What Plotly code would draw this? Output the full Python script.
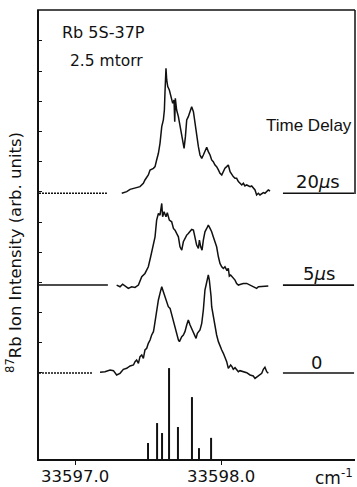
import plotly.graph_objects as go

# ---------------- data ----------------
NU0 = 33597.0  # cm^-1 reference; spectra below are given relative to it

# 20 us delay
nu_20us = [0.320, 0.354, 0.377, 0.411, 0.445, 0.468, 0.479, 0.502, 0.514, 0.537,
           0.548, 0.559, 0.571, 0.582, 0.594, 0.605, 0.612, 0.616, 0.623, 0.628,
           0.635, 0.646, 0.658, 0.669, 0.678, 0.683, 0.687, 0.696, 0.708, 0.719,
           0.731, 0.742, 0.747, 0.756, 0.765, 0.776, 0.788, 0.799, 0.811, 0.822,
           0.833, 0.845, 0.856, 0.868, 0.879, 0.890, 0.902, 0.913, 0.925, 0.936,
           0.947, 0.959, 0.970, 0.982, 0.993, 1.005, 1.016, 1.027, 1.039, 1.050,
           1.062, 1.073, 1.084, 1.096, 1.107, 1.119, 1.130, 1.142, 1.153, 1.164,
           1.176, 1.199, 1.210, 1.221, 1.233, 1.244, 1.256, 1.267, 1.279, 1.290,
           1.301, 1.313, 1.324, 1.336]
int_20us = [0.000, 0.055, 0.132, 0.166, 0.221, 0.331, 0.442, 0.607, 0.773, 0.828,
            0.883, 1.104, 1.325, 1.656, 2.208, 2.428, 2.759, 3.311, 4.139, 3.753,
            3.532, 3.422, 3.201, 2.980, 3.091, 2.373, 3.146, 2.759, 2.539, 2.263,
            1.987, 1.656, 1.490, 1.876, 2.428, 2.539, 2.704, 2.870, 2.704, 2.318,
            1.876, 1.545, 1.269, 1.159, 1.269, 1.380, 1.523, 1.380, 1.269, 1.104,
            1.049, 0.938, 0.883, 0.773, 0.662, 0.607, 0.717, 0.828, 0.883, 0.938,
            0.717, 0.607, 0.552, 0.497, 0.497, 0.386, 0.331, 0.276, 0.331, 0.243,
            0.276, 0.221, 0.243, 0.166, 0.110, -0.055, 0.000, -0.055, 0.000, 0.022,
            0.000, 0.055, 0.110, 0.077]

# 5 us delay
nu_5us = [0.285, 0.308, 0.326, 0.342, 0.365, 0.388, 0.411, 0.434, 0.457, 0.479,
          0.502, 0.518, 0.532, 0.548, 0.559, 0.571, 0.582, 0.594, 0.600, 0.610,
          0.623, 0.632, 0.646, 0.662, 0.674, 0.685, 0.696, 0.708, 0.719, 0.731,
          0.742, 0.753, 0.765, 0.776, 0.788, 0.799, 0.811, 0.822, 0.833, 0.845,
          0.852, 0.861, 0.870, 0.879, 0.890, 0.902, 0.913, 0.925, 0.936, 0.947,
          0.959, 0.970, 0.982, 0.993, 1.005, 1.016, 1.027, 1.039, 1.050, 1.057,
          1.066, 1.075, 1.084, 1.096, 1.107, 1.119, 1.130, 1.153, 1.176, 1.199,
          1.221, 1.244, 1.256, 1.267, 1.290, 1.313, 1.324]
int_5us = [0.000, -0.055, 0.033, -0.033, -0.110, -0.055, -0.077, 0.000, 0.276, 0.386,
           0.607, 0.938, 1.269, 1.600, 2.152, 2.373, 2.318, 2.704, 2.263, 2.428,
           2.263, 2.395, 2.152, 2.097, 1.876, 1.821, 1.711, 1.600, 1.269, 1.159,
           1.435, 1.545, 1.656, 1.711, 1.766, 1.843, 1.821, 1.600, 1.325, 1.214,
           1.490, 1.269, 1.159, 1.490, 1.766, 1.876, 1.987, 1.876, 1.766, 1.600,
           1.435, 1.269, 0.938, 0.717, 0.607, 0.552, 0.607, 0.497, 0.552, 0.298,
           0.331, 0.276, 0.221, 0.166, 0.055, 0.000, 0.022, 0.055, 0.055, 0.000,
           -0.033, -0.110, -0.055, -0.055, -0.055, -0.055, -0.033]

# 0 delay
nu_0 = [0.171, 0.205, 0.240, 0.263, 0.285, 0.308, 0.331, 0.354, 0.377, 0.400,
        0.411, 0.422, 0.434, 0.445, 0.457, 0.468, 0.479, 0.491, 0.502, 0.514,
        0.525, 0.537, 0.541, 0.548, 0.559, 0.571, 0.582, 0.594, 0.605, 0.616,
        0.628, 0.639, 0.651, 0.662, 0.674, 0.685, 0.696, 0.708, 0.715, 0.724,
        0.731, 0.742, 0.753, 0.765, 0.776, 0.788, 0.799, 0.811, 0.822, 0.829,
        0.838, 0.845, 0.856, 0.868, 0.879, 0.890, 0.902, 0.913, 0.920, 0.925,
        0.932, 0.936, 0.947, 0.959, 0.970, 0.982, 0.993, 1.005, 1.016, 1.027,
        1.039, 1.050, 1.057, 1.066, 1.075, 1.084, 1.096, 1.107, 1.119, 1.130,
        1.153, 1.176, 1.199, 1.221, 1.233, 1.244, 1.267, 1.279, 1.290, 1.301,
        1.313, 1.324]
int_0 = [0.022, 0.044, 0.099, 0.077, -0.066, -0.011, 0.121, 0.155, 0.232, 0.265,
         0.375, 0.430, 0.320, 0.541, 0.596, 0.486, 0.762, 0.817, 0.982, 1.093,
         1.258, 1.369, 1.479, 1.700, 2.196, 2.417, 2.638, 2.859, 2.693, 2.528,
         2.307, 2.196, 2.141, 1.921, 1.755, 1.534, 1.313, 1.093, 1.038, 1.148,
         1.203, 1.258, 1.369, 1.589, 1.755, 1.589, 1.479, 1.369, 1.258, 1.148,
         1.313, 1.369, 1.424, 1.645, 2.086, 2.748, 2.969, 3.245, 3.079, 2.914,
         2.528, 2.196, 1.865, 1.534, 1.258, 1.038, 0.872, 0.762, 0.651, 0.541,
         0.375, 0.155, 0.210, 0.265, 0.210, 0.121, 0.177, 0.099, 0.044, 0.077,
         0.044, 0.011, -0.066, -0.099, -0.177, -0.143, -0.066, -0.011, 0.121, 0.188,
         0.044, -0.011]

# calculated hyperfine stick spectrum
stick_nu = [0.500, 0.562, 0.596, 0.644, 0.705, 0.801, 0.849, 0.932]
stick_height = [0.53, 1.19, 0.86, 3.01, 1.06, 2.05, 0.36, 0.70]

delay_labels = ["20<i>\u03bc</i>s", "5<i>\u03bc</i>s", "0"]
x_tick_values = [33597.0, 33598.0]
x_tick_labels = ["33597.0", "33598.0"]

# ---------------- layout constants ----------------
X_RANGE = [33596.753, 33598.918]
Y_MIN, Y_MAX = -2.848, 12.02
OFFSETS = [5.95, 2.91, 0.0]        # vertical stacking of the three delays
FONT = "DejaVu Sans"
INK = "#111111"

fig = go.Figure()

series = [(nu_20us, int_20us), (nu_5us, int_5us), (nu_0, int_0)]
for (nu, inten), off in zip(series, OFFSETS):
    fig.add_trace(go.Scatter(
        x=[NU0 + v for v in nu], y=[off + v for v in inten],
        mode="lines", line=dict(color=INK, width=1.5), hoverinfo="skip"))

sx, sy = [], []
for nu, h in zip(stick_nu, stick_height):
    sx += [NU0 + nu, NU0 + nu, None]
    sy += [Y_MIN, Y_MIN + h, None]
fig.add_trace(go.Scatter(x=sx, y=sy, mode="lines",
                         line=dict(color=INK, width=2), hoverinfo="skip"))

shapes = []
# baseline markers on the left and right of each trace
left_ends = [0.215, 0.218, 0.171]
left_dash = ["2px,1px", "solid", "2px,1px"]
for off, le, dsh in zip(OFFSETS, left_ends, left_dash):
    shapes.append(dict(type="line", xref="paper", yref="y", x0=0, x1=le,
                       y0=off, y1=off, line=dict(color=INK, width=1.5, dash=dsh)))
    shapes.append(dict(type="line", xref="paper", yref="y", x0=0.772, x1=0.997,
                       y0=off, y1=off, line=dict(color=INK, width=1.6)))
# frame: top and (partial) right border
shapes.append(dict(type="line", xref="paper", yref="paper", x0=-0.006, x1=1,
                   y0=1, y1=1, line=dict(color=INK, width=1.5)))
shapes.append(dict(type="line", xref="paper", yref="paper", x0=1, x1=1,
                   y0=1, y1=0.59, line=dict(color=INK, width=1.5)))

annotations = [
    dict(text="Rb 5S-37P", x=0.066, y=0.949, xanchor="left", yanchor="middle",
         font=dict(size=16, family=FONT, color=INK)),
    dict(text="2.5 mtorr", x=0.092, y=0.886, xanchor="left", yanchor="middle",
         font=dict(size=15.5, family=FONT, color=INK)),
    dict(text="Time Delay", x=0.997, y=0.742, xanchor="right", yanchor="middle",
         font=dict(size=17, family="Liberation Sans", color=INK)),
    dict(text="cm<sup>-1</sup>", x=0.934, y=-0.040, xanchor="center", yanchor="middle",
         font=dict(size=17, family=FONT, color=INK)),
    dict(text="<sup>87</sup>Rb Ion Intensity (arb. units)", x=-0.079, y=0.459,
         xanchor="center", yanchor="middle", textangle=-90,
         font=dict(size=16.5, family=FONT, color=INK)),
]
label_pos = [(0.883, 0.617), (0.886, 0.414), (0.877, 0.216)]
for txt, (lx, ly) in zip(delay_labels, label_pos):
    annotations.append(dict(text=txt, x=lx, y=ly, xanchor="center", yanchor="middle",
                            font=dict(size=18, family=FONT, color=INK)))
for a in annotations:
    a.update(xref="paper", yref="paper", showarrow=False)

fig.update_layout(
    template="none",
    width=357, height=487,
    margin=dict(l=39, r=2, t=10, b=28, autoexpand=False),
    paper_bgcolor="white", plot_bgcolor="white",
    showlegend=False,
    shapes=shapes, annotations=annotations,
    xaxis=dict(range=X_RANGE, showgrid=False, zeroline=False, automargin=False,
               showline=True, linecolor=INK, linewidth=1.5,
               tickmode="array", tickvals=x_tick_values, ticktext=x_tick_labels,
               ticks="outside", ticklen=4, tickwidth=1.2, tickcolor=INK,
               ticklabelstandoff=-3,
               tickfont=dict(size=16.5, family=FONT, color=INK)),
    yaxis=dict(range=[Y_MIN, Y_MAX], showgrid=False, zeroline=False, automargin=False,
               showline=True, linecolor=INK, linewidth=1.5,
               tickmode="array", tickvals=list(range(12)), showticklabels=False,
               ticks="inside", ticklen=3, tickwidth=1.2, tickcolor=INK),
)

fig.write_html("out.html", config={"displayModeBar": False},
               post_script="document.body.style.margin='0px';"
                           "document.body.style.overflow='hidden';")
